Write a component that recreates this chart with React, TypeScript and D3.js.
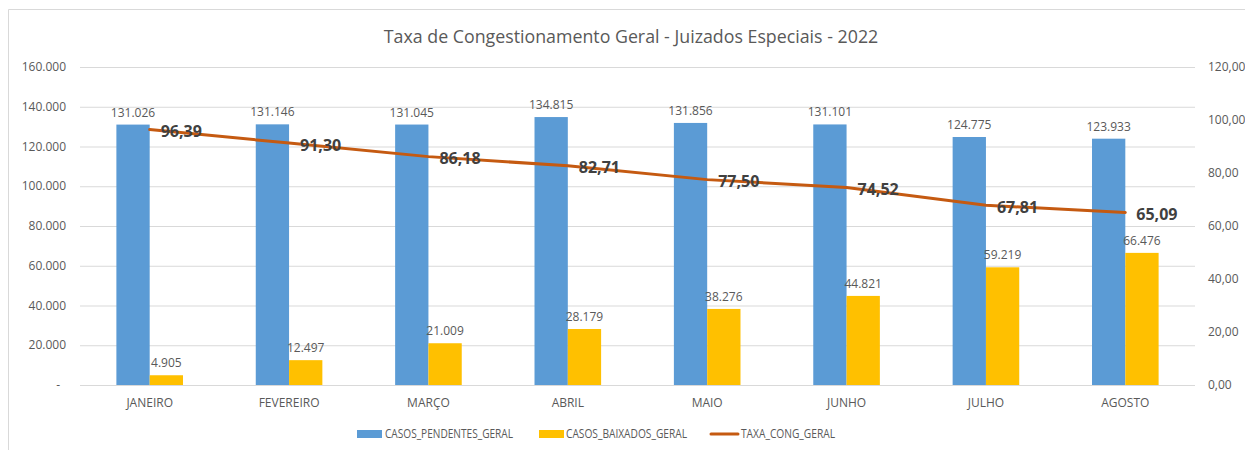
import * as d3 from 'd3';

const months = ['JANEIRO', 'FEVEREIRO', 'MARÇO', 'ABRIL', 'MAIO', 'JUNHO', 'JULHO', 'AGOSTO'];
const pendentes = [131026, 131146, 131045, 134815, 131856, 131101, 124775, 123933];
const baixados = [4905, 12497, 21009, 28179, 38276, 44821, 59219, 66476];
const taxa = [96.39, 91.3, 86.18, 82.71, 77.5, 74.52, 67.81, 65.09];
const leftTicks = [0, 20000, 40000, 60000, 80000, 100000, 120000, 140000, 160000];
const rightTicks = [0, 20, 40, 60, 80, 100, 120];

const BLUE = '#5B9BD5';
const YELLOW = '#FFC000';
const ORANGE = '#C55A11';
const GRAY = '#595959';
const FONT = "'Open Sans', 'Liberation Sans', sans-serif";

const ptBR = d3.formatLocale({ decimal: ',', thousands: '.', grouping: [3], currency: ['R$', ''] });
const fmtInt = ptBR.format(',.0f');
const fmtDec = ptBR.format(',.2f');

export default function App() {
  const width = 1245;
  const height = 450;
  const left = 80;
  const right = 1195;
  const top = 67;
  const bottom = 385;

  const x = d3.scaleBand<string>().domain(months).range([left, right]).padding(0);
  const barW = 33.3;
  const xs = d3.scaleBand<string>().domain(['p', 'b']).range([-barW, barW]);
  const yL = d3.scaleLinear().domain([0, 160000]).range([bottom, top]);
  const yR = d3.scaleLinear().domain([0, 120]).range([bottom, top]);
  const cx = (m: string) => (x(m) ?? 0) + x.bandwidth() / 2;

  const line = d3
    .line<number>()
    .x((_, i) => cx(months[i]))
    .y((d) => yR(d));

  const series = [
    { key: 'p', values: pendentes, color: BLUE },
    { key: 'b', values: baixados, color: YELLOW }
  ];

  return (
    <svg
      width={width}
      height={height}
      style={{ position: 'absolute', left: 0, top: 0, fontFamily: FONT }}
    >
      <rect x={0} y={0} width={width} height={height} fill="#fff" />
      <path d={`M8.5,${height} V9.5 H${width}`} fill="none" stroke="#d9d9d9" />

      <text x={631} y={43} textAnchor="middle" fontSize={17.8} fill={GRAY}>
        Taxa de Congestionamento Geral - Juizados Especiais - 2022
      </text>

      {/* gridlines + axes */}
      {leftTicks.map((t) => (
        <g key={t}>
          <line x1={left} x2={right} y1={yL(t) + 0.5} y2={yL(t) + 0.5} stroke="#d9d9d9" />
          <text x={t === 0 ? 60 : 66} y={yL(t)} dy="0.35em" textAnchor="end" fontSize={12} fill={GRAY}>
            {t === 0 ? '-' : fmtInt(t)}
          </text>
        </g>
      ))}
      {rightTicks.map((t) => (
        <text key={t} x={1208} y={yR(t)} dy="0.35em" fontSize={12} fill={GRAY}>
          {fmtDec(t)}
        </text>
      ))}
      {months.map((m) => (
        <text key={m} x={cx(m)} y={403} dy="0.35em" textAnchor="middle" fontSize={12} fill={GRAY}>
          {m}
        </text>
      ))}

      {/* bars */}
      {series.map((s) =>
        s.values.map((v, i) => {
          const bx = cx(months[i]) + (xs(s.key) ?? 0);
          return (
            <g key={s.key + i}>
              <rect x={bx} y={yL(v)} width={xs.bandwidth()} height={bottom - yL(v)} fill={s.color} />
              <text
                x={bx + xs.bandwidth() / 2}
                y={yL(v) - 8}
                textAnchor="middle"
                fontSize={12}
                fill={GRAY}
              >
                {fmtInt(v)}
              </text>
            </g>
          );
        })
      )}

      {/* line */}
      <path d={line(taxa) || ''} fill="none" stroke={ORANGE} strokeWidth={3} strokeLinecap="round" />
      {taxa.map((v, i) => (
        <text
          key={i}
          x={cx(months[i]) + 11}
          y={yR(v) + 2}
          dy="0.35em"
          fontSize={16}
          fontWeight="bold"
          fill="#404040"
        >
          {fmtDec(v)}
        </text>
      ))}

      {/* legend */}
      <g fontSize={12} fill={GRAY}>
        <rect x={357} y={430} width={25} height={8} fill={BLUE} />
        <text x={385} y={434} dy="0.35em" textLength={128} lengthAdjust="spacingAndGlyphs">
          CASOS_PENDENTES_GERAL
        </text>
        <rect x={539} y={430} width={25} height={8} fill={YELLOW} />
        <text x={566} y={434} dy="0.35em" textLength={121} lengthAdjust="spacingAndGlyphs">
          CASOS_BAIXADOS_GERAL
        </text>
        <line x1={711} x2={738} y1={434} y2={434} stroke={ORANGE} strokeWidth={3} strokeLinecap="round" />
        <text x={741} y={434} dy="0.35em" textLength={94} lengthAdjust="spacingAndGlyphs">
          TAXA_CONG_GERAL
        </text>
      </g>
    </svg>
  );
}
